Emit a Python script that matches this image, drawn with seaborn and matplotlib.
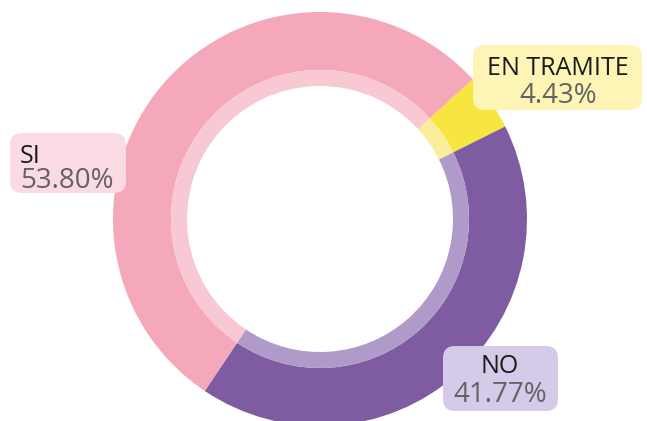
import matplotlib

matplotlib.use("Agg")

import matplotlib.pyplot as plt
import seaborn as sns
from matplotlib.patches import FancyBboxPatch

# data, clockwise starting just right of twelve o'clock
categories = ["EN TRAMITE", "NO", "SI"]
shares = [4.43, 41.77, 53.80]

outer_colors = ["#F6E63F", "#7F5CA2", "#F4A8BA"]
inner_colors = ["#FAEE9A", "#AF9AC9", "#F8C8D3"]
box_colors = ["#FEF4B6", "#D5CAE7", "#FADBE3"]

sns.set_theme(style="white")
plt.rcParams["font.family"] = ["Open Sans", "DejaVu Sans"]

W, H = 647, 421
fig = plt.figure(figsize=(W / 100, H / 100), dpi=100)
ax = fig.add_axes([0, 0, 1, 1])

cx, cy = 320, H - 219
r_out, r_mid, r_in = 207, 149, 133

ax.pie(shares, radius=r_out, center=(cx, cy), colors=outer_colors, startangle=42.5,
       counterclock=False, wedgeprops=dict(width=r_out - r_mid, linewidth=0), frame=True)
ax.pie(shares, radius=r_mid, center=(cx, cy), colors=inner_colors, startangle=42.5,
       counterclock=False, wedgeprops=dict(width=r_mid - r_in, linewidth=0), frame=True)
ax.set_xlim(0, W)
ax.set_ylim(0, H)
ax.set_aspect("equal")
ax.axis("off")

# label boxes in pixel coords (top-left origin): x0, x1, y0, y1, text x, align, baselines
boxes = {
    "EN TRAMITE": (473, 642, 45, 110, 558, "center", 75, 103),
    "NO": (443, 558, 346, 411, 500, "center", 373, 402),
    "SI": (10, 126, 133, 193, 20, "left", 163, 188),
}

for cat, share, bc in zip(categories, shares, box_colors):
    x0, x1, y0, y1, tx, ha, b1, b2 = boxes[cat]
    ax.add_patch(FancyBboxPatch((x0 + 12, H - y1 + 12), (x1 - x0) - 24, (y1 - y0) - 24,
                                boxstyle="round,pad=12", fc=bc, ec="none", zorder=3))
    ax.text(tx, H - b1, cat, ha=ha, va="baseline", fontsize=18, color="#1a1a1a", zorder=4)
    ax.text(tx, H - b2, f"{share:.2f}%", ha=ha, va="baseline", fontsize=20,
            color="#636363", fontweight="medium", zorder=4)

fig.savefig("out.png", dpi=100)
